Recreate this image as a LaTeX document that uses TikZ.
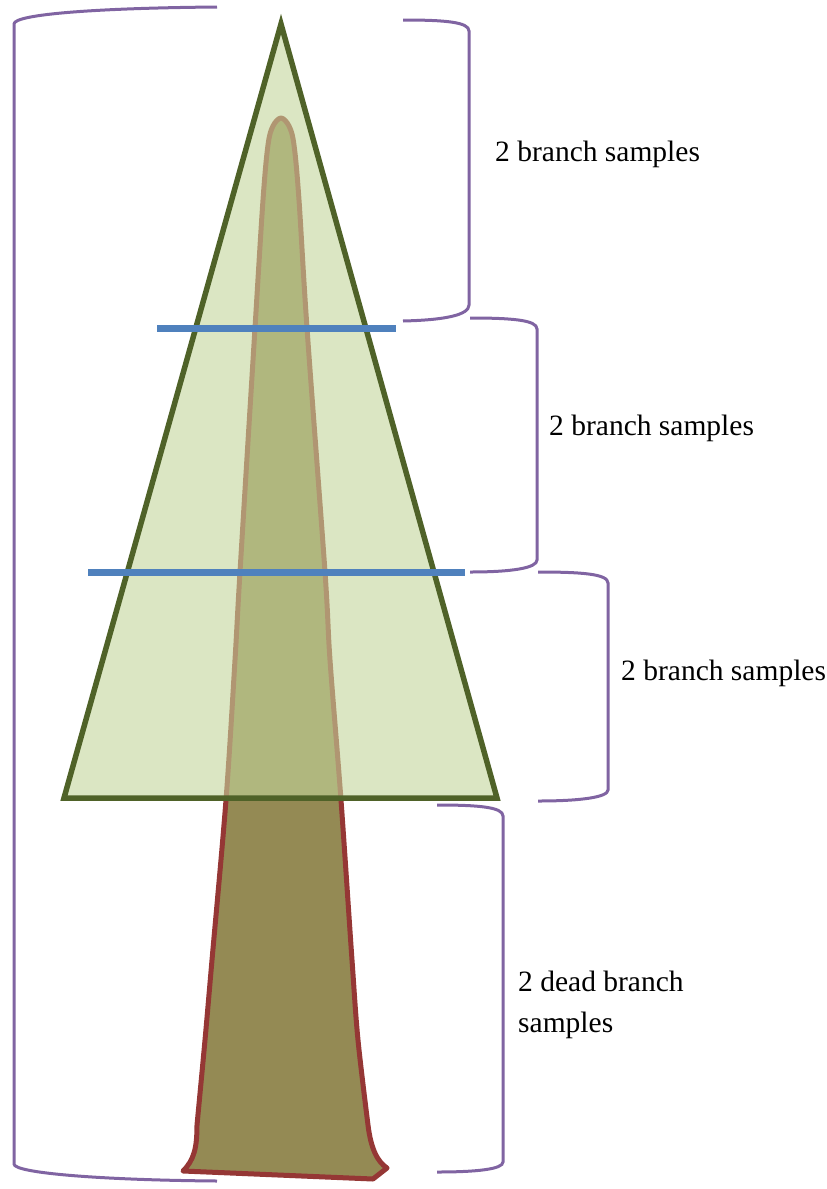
\documentclass[tikz,border=0pt]{standalone}
\usepackage{fontspec}
\setmainfont{Liberation Serif}
\newfontfamily\labelfont{Liberation Serif}
\usepackage{tikz}
\definecolor{Crown}{HTML}{C3D69B}
\definecolor{CrownLine}{HTML}{4F6228}
\definecolor{Trunk}{HTML}{948A54}
\definecolor{Bark}{HTML}{953735}
\definecolor{Cut}{HTML}{4F81BD}
\definecolor{Bracket}{HTML}{8064A2}

\begin{document}
\begin{tikzpicture}[
  x=1pt,y=-1pt,
  trunk/.style={draw=Bark,fill=Trunk,line width=5pt,line join=round},
  crown/.style={draw=CrownLine,fill=Crown,fill opacity=0.6,line width=5.5pt},
  cut/.style={draw=Cut,line width=7pt},
  bracket/.style={draw=Bracket,line width=3pt},
  label/.style={inner sep=0pt,font=\labelfont\fontsize{29.5}{41}\selectfont,align=left}
]
  \useasboundingbox (0,0) rectangle (827,1189);

  % stem, running up inside the crown to the leader
  \draw[trunk] (183,1171) .. controls (194,1160) and (197,1148) .. (197,1125)
    -- plot[smooth,tension=0.55] coordinates {(197,1125) (205,1040) (212,960) (226,800)
      (235,660) (240,572) (255,328) (263,200) (268,145) (273,126) (281,118)
      (289,126) (294,145) (299,200) (307,328) (325,572) (330,660) (341,800)
      (352,960) (358,1040) (368,1125)}
    .. controls (371,1150) and (378,1162) .. (387,1168) -- (373,1179) -- cycle;

  % crown
  \draw[crown] (281,24) -- (497,798) -- (64,798) -- cycle;

  % sampling heights
  \draw[cut] (157,328) -- (396,328);
  \draw[cut] (88,572) -- (465,572);

  % brackets on the right, one per section
  \draw[bracket] (403,20) .. controls (445,20) and (469,22) .. (469,31)
    -- (469,305) .. controls (469,315) and (445,320) .. (403,321);
  \draw[bracket] (470,318) .. controls (512,318) and (537,320) .. (537,329)
    -- (537,560) .. controls (537,568) and (512,572) .. (470,572);
  \draw[bracket] (538,572) .. controls (582,572) and (608,574) .. (608,583)
    -- (608,790) .. controls (608,797) and (582,801) .. (538,801);
  \draw[bracket] (437,805) .. controls (478,805) and (503,807) .. (503,816)
    -- (503,1162) .. controls (503,1169) and (478,1172) .. (437,1172);

  % whole tree
  \draw[bracket] (217,7) .. controls (100,8) and (14,14) .. (14,24)
    -- (14,1164) .. controls (14,1173) and (100,1180) .. (217,1181);

  \node[label,anchor=base west] (top) at (495,161) {2 branch samples};
  \node[label,anchor=base west] (middle) at (549,435) {2 branch samples};
  \node[label,anchor=base west] (lower) at (621,680) {2 branch samples};
  \node[label,anchor=north west] (dead) at (518,971) {2 dead branch\\samples};
\end{tikzpicture}
\end{document}
